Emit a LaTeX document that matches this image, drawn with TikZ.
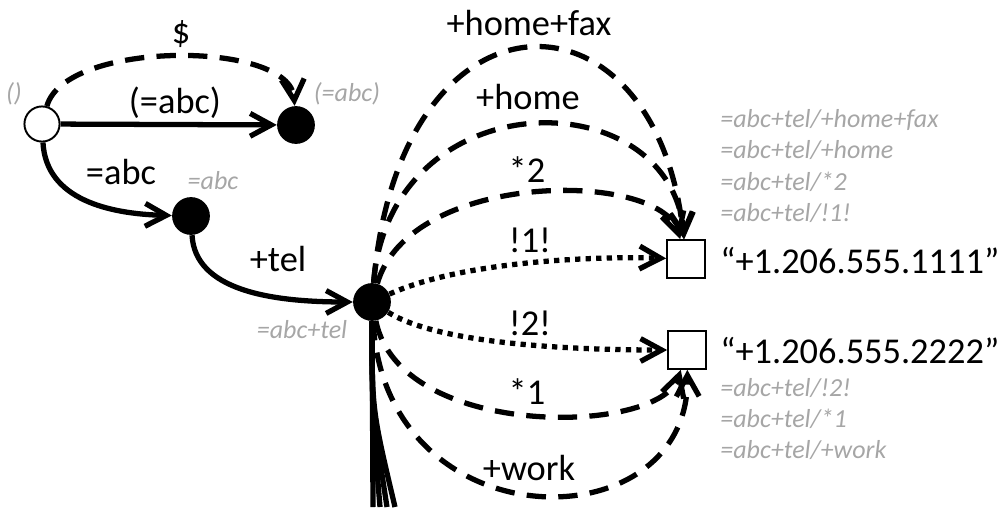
\documentclass[tikz,border=0pt]{standalone}
\usepackage{fontspec}
\setmainfont{Carlito}
\usetikzlibrary{arrows.meta}
\definecolor{pathgray}{RGB}{166,166,166}
\tikzset{
  state/.style={circle,fill=black,inner sep=0pt,minimum size=21.5pt},
  start/.style={circle,draw=black,fill=white,line width=1.1pt,inner sep=0pt,minimum size=20pt},
  leaf/.style={rectangle,draw=black,fill=white,line width=1.1pt,inner sep=0pt,minimum size=21.5pt},
  lbl/.style={inner sep=0pt,font=\fontsize{20.7}{24}\selectfont},
  sel/.style={inner sep=0pt,text=pathgray,font=\fontsize{14.8}{17.8}\selectfont\itshape},
  trunk/.style={line width=3pt},
  trans/.style={trunk,-{Straight Barb[length=12pt,width=13pt]}},
  jump/.style={trans,dash pattern=on 11pt off 7pt},
  pick/.style={trans,dash pattern=on 3pt off 3pt}
}
\begin{document}
\begin{tikzpicture}[x=0.02cm,y=-0.02cm]
\useasboundingbox (0,0) rectangle (1003,507);
% states
\node[start] (root) at (42,124) {};
\node[state] (q1) at (296,125) {};
\node[state] (q2) at (191,216) {};
\node[state] (tel) at (372,302) {};
\node[leaf] (v1) at (686,259) {};
\node[leaf] (v2) at (687,350) {};
\coordinate (d1) at (373,507);
\coordinate (d2) at (380,507);
\coordinate (d3) at (387,507);
\coordinate (d4) at (395,507);
% transitions
\draw[trans] (root) -- (q1);
\draw[jump] (root) .. controls (65,40) and (290,40) .. (q1);
\draw[trans] (root) .. controls (46,200) and (110,214) .. (q2);
\draw[trans] (q2) .. controls (195,290) and (270,302) .. (tel);
\draw[jump] (tel) .. controls (400,-23) and (655,-23) .. (v1);
\draw[jump] (tel) .. controls (390,79) and (670,79) .. (v1);
\draw[jump] (tel) .. controls (410,170) and (660,170) .. (v1);
\draw[pick] (tel) .. controls (460,262) and (590,256) .. (v1);
\draw[pick] (tel) .. controls (440,345) and (580,350) .. (v2);
\draw[jump] (tel) .. controls (400,440) and (660,436) .. (v2);
\draw[jump] (tel) .. controls (385,545) and (690,545) .. (v2);
\draw[trunk] (tel) -- (d1);
\draw[trunk] (tel) .. controls (372,410) .. (d2);
\draw[trunk] (tel) .. controls (372,410) .. (d3);
\draw[trunk] (tel) .. controls (372,410) .. (d4);
% labels
\node[lbl] (ldollar) at (181,34) {\$};
\node[lbl] (lq1) at (175,103) {(=abc)};
\node[lbl] (lq2) at (121,172) {=abc};
\node[lbl] (ltel) at (278,259) {+tel};
\node[lbl] (lhf) at (529,23) {+home+fax};
\node[lbl] (lh) at (528,97) {+home};
\node[lbl] (ls2) at (527,170) {*2};
\node[lbl] (lx1) at (530,240) {!1!};
\node[lbl] (lx2) at (530,323) {!2!};
\node[lbl] (ls1) at (527,392) {*1};
\node[lbl] (lw) at (529,468) {+work};
\node[lbl,anchor=west] (val1) at (720,261) {“+1.206.555.1111”};
\node[lbl,anchor=west] (val2) at (720,351) {“+1.206.555.2222”};
% paths
\node[sel] (proot) at (14,94) {()};
\node[sel] (pq1) at (347,94) {(=abc)};
\node[sel] (pq2) at (213,181) {=abc};
\node[sel] (ptel) at (302,330) {=abc+tel};
\node[sel,anchor=west,align=left] (pv1) at (720,166) {=abc+tel/+home+fax\\=abc+tel/+home\\=abc+tel/*2\\=abc+tel/!1!};
\node[sel,anchor=west,align=left] (pv2) at (720,419) {=abc+tel/!2!\\=abc+tel/*1\\=abc+tel/+work};
\end{tikzpicture}
\end{document}
